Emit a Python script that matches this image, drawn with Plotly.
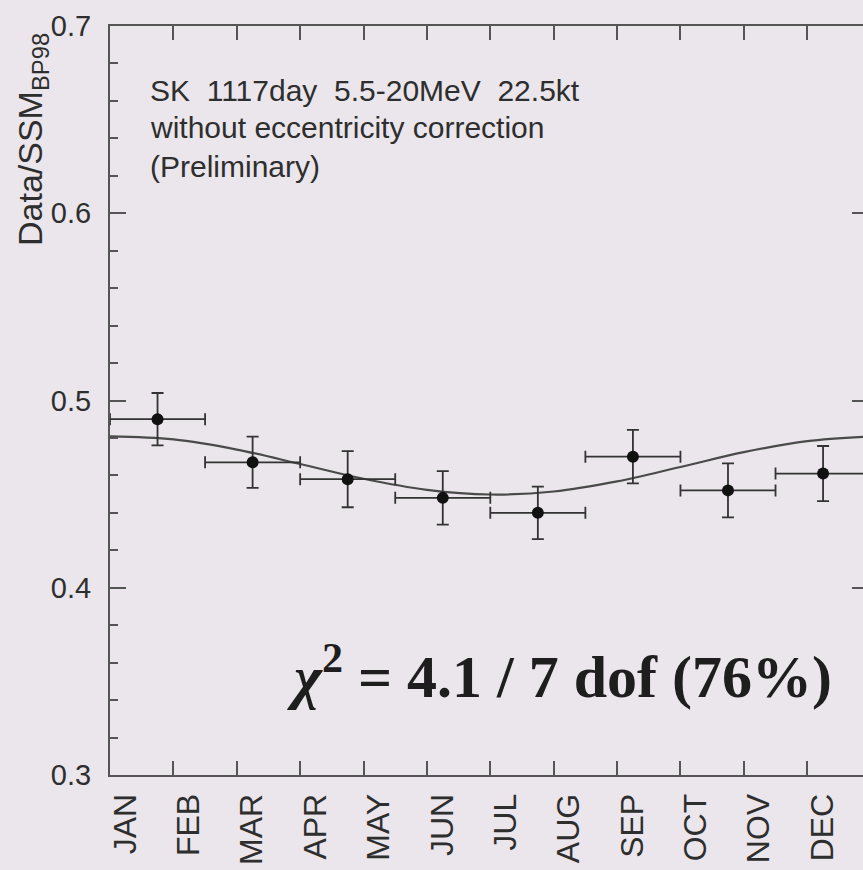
import plotly.graph_objects as go

# Seasonal variation of the solar neutrino flux ratio (8 bins of 1.5 months)
bin_center = [0.75, 2.25, 3.75, 5.25, 6.75, 8.25, 9.75, 11.25]
bin_halfwidth = [0.75, 0.75, 0.75, 0.75, 0.75, 0.75, 0.75, 0.75]
ratio = [0.490, 0.467, 0.458, 0.448, 0.440, 0.470, 0.452, 0.461]
ratio_err = [0.014, 0.0137, 0.015, 0.0143, 0.014, 0.0143, 0.0144, 0.0147]

# Expected 1/r^2 eccentricity curve, sampled at month boundaries
curve_month = [0, 1, 2, 3, 4, 5, 6, 7, 8, 9, 10, 11, 12]
curve_ratio = [0.4808, 0.4792, 0.4738, 0.4661, 0.4582, 0.4523, 0.4498,
               0.4514, 0.4568, 0.4645, 0.4724, 0.4783, 0.4808]

month_labels = ["JAN", "FEB", "MAR", "APR", "MAY", "JUN",
                "JUL", "AUG", "SEP", "OCT", "NOV", "DEC"]
month_label_pos = [i + 0.24 for i in range(12)]
month_ticks = list(range(1, 12))
y_major = [0.3, 0.4, 0.5, 0.6, 0.7]

W, H = 863, 870
ML, MR, MT, MB = 110, 0, 26, 95
BG = "#eae6eb"
INK = "#2e2e2e"
FRAME = "#555555"


def px_x(px):
    return (px - ML) / (W - ML - MR)


def px_y(py):
    return 1 - (py - MT) / (H - MT - MB)


fig = go.Figure()

fig.add_trace(go.Scatter(
    x=curve_month, y=curve_ratio, mode="lines",
    line=dict(color="#4a4a4a", width=2.2, shape="spline", smoothing=1.0),
    hoverinfo="skip", showlegend=False,
))

fig.add_trace(go.Scatter(
    x=bin_center, y=ratio, mode="markers",
    marker=dict(color="#111111", size=12),
    error_x=dict(type="data", array=bin_halfwidth, color="#333333",
                 thickness=1.8, width=6),
    error_y=dict(type="data", array=ratio_err, color="#333333",
                 thickness=1.8, width=6),
    showlegend=False,
))

# carrier for the right-hand tick axis
fig.add_trace(go.Scatter(x=[None], y=[None], yaxis="y2", mode="markers",
                         showlegend=False, hoverinfo="skip"))

fig.update_layout(
    width=W, height=H,
    margin=dict(l=ML, r=MR, t=MT, b=MB),
    paper_bgcolor=BG, plot_bgcolor=BG,
    font=dict(family="Liberation Sans", color=INK),
    xaxis=dict(
        range=[0, 11.88], showgrid=False, zeroline=False,
        showline=True, linecolor=FRAME, linewidth=2, mirror="allticks",
        tickvals=month_label_pos, ticktext=month_labels,
        tickangle=-90, ticks="", ticklabelstandoff=4,
        tickfont=dict(size=32, color=INK),
        minor=dict(tickvals=month_ticks, ticks="inside", ticklen=14,
                   tickcolor=FRAME, tickwidth=1.5),
    ),
    yaxis=dict(
        range=[0.3, 0.7], showgrid=False, zeroline=False,
        showline=True, linecolor=FRAME, linewidth=2,
        tickvals=y_major, ticktext=["0.3", "0.4", "0.5", "0.6", "0.7"],
        ticks="inside", ticklen=16, tickcolor=FRAME, tickwidth=1.5,
        ticklabelstandoff=11,
        tickfont=dict(size=29, color=INK),
        minor=dict(dtick=0.02, tick0=0.3, ticks="inside", ticklen=8,
                   tickcolor=FRAME, tickwidth=1.5),
    ),
    yaxis2=dict(
        range=[0.3, 0.7], overlaying="y", side="right", anchor="x",
        showgrid=False, zeroline=False, showline=False,
        tickvals=y_major, ticks="inside", ticklen=11,
        tickcolor=FRAME, tickwidth=1.5, showticklabels=False,
    ),
)

text_lines = [
    ("SK&nbsp;&nbsp;1117day&nbsp;&nbsp;5.5-20MeV&nbsp;&nbsp;22.5kt", 90),
    ("without eccentricity correction", 128),
    ("(Preliminary)", 166),
]
for txt, ypx in text_lines:
    fig.add_annotation(
        xref="paper", yref="paper", x=px_x(148), y=px_y(ypx),
        xanchor="left", yanchor="middle", showarrow=False, text=txt,
        font=dict(family="Liberation Sans", size=30, color=INK),
    )

fig.add_annotation(
    xref="paper", yref="paper", x=px_x(285), y=px_y(672),
    xanchor="left", yanchor="middle", showarrow=False,
    text="<i>χ</i><sup>2</sup> = 4.1 / 7 dof (76%)",
    font=dict(family="Liberation Serif", size=60, color="#1e1e1e", weight="bold"),
)

fig.add_annotation(
    xref="paper", yref="paper", x=px_x(32), y=px_y(140),
    xanchor="center", yanchor="middle", showarrow=False, textangle=-90,
    text="Data/SSM<sub>BP98</sub>",
    font=dict(family="Liberation Sans", size=34, color=INK),
)

fig.write_html("out.html")
